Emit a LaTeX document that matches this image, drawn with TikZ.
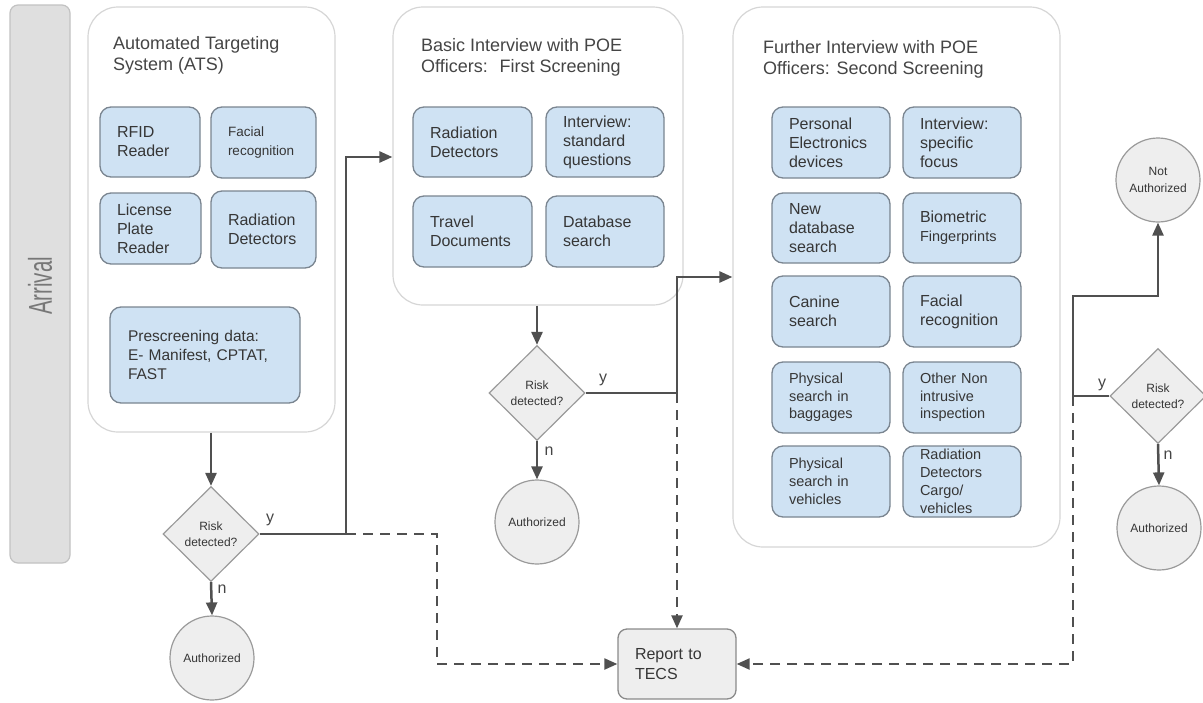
\documentclass[tikz,border=0pt]{standalone}
\usepackage{fontspec}
\setmainfont{Liberation Sans}
\newfontfamily\arrfont[FakeStretch=0.62]{Liberation Sans}
\usetikzlibrary{shapes.geometric,arrows.meta}
\definecolor{boxfill}{HTML}{CFE2F3}
\definecolor{boxline}{HTML}{7A8590}
\definecolor{grayfill}{HTML}{EEEEEE}
\definecolor{grayline}{HTML}{9A9A9A}
\definecolor{repline}{HTML}{8A8A8A}
\definecolor{contline}{HTML}{D6D6D6}
\definecolor{conn}{HTML}{505050}
\definecolor{txt}{HTML}{363636}
\definecolor{ttl}{HTML}{454545}
\definecolor{barfill}{HTML}{DFDFDF}
\definecolor{barline}{HTML}{C2C2C2}
\definecolor{arrtext}{HTML}{777777}
\newcommand{\fsz}[2]{\fontsize{#1}{#2}\selectfont}
\begin{document}
\begin{tikzpicture}[x=1pt,y=-1pt,
  container/.style={draw=contline, line width=1.2pt, rounded corners=30pt, fill=white, inner sep=0pt},
  titletext/.style={anchor=west, align=left, text=ttl, font=\fsz{18}{21}, inner sep=0pt},
  ibox/.style={draw=boxline, fill=boxfill, rounded corners=11pt, line width=1.3pt, inner xsep=17pt, inner ysep=0pt, align=left, text=txt, font=\fsz{16}{19}},
  dia/.style={diamond, draw=grayline, fill=grayfill, line width=1.2pt, minimum width=96pt, minimum height=95pt, inner sep=0pt, font=\fsz{12}{16}, text=txt, align=center},
  circ/.style={circle, draw=grayline, fill=grayfill, line width=1.2pt, minimum size=84pt, inner sep=0pt, font=\fsz{12}{17}, text=txt, align=center},
  repbox/.style={draw=repline, fill=grayfill, rounded corners=9pt, line width=1.3pt, minimum height=70pt, text width=84pt, inner xsep=17pt, inner ysep=0pt, align=left, text=txt, font=\fsz{16}{20}},
  lbl/.style={text=ttl, font=\fsz{16}{18}, inner sep=0pt},
  arr/.style={draw=conn, line width=2.5pt, -{Triangle[length=13pt,width=11pt]}},
  dasharr/.style={arr, line width=2.2pt, dash pattern=on 10pt off 7pt}
]
\useasboundingbox (0,0) rectangle (1203,702);

% Arrival bar
\node[draw=barline, fill=barfill, line width=1.2pt, rounded corners=8pt, minimum width=60pt, minimum height=558pt, inner sep=0pt] (bar) at (40,284) {};
\node[rotate=90, text=arrtext, font=\arrfont\fsz{33}{36}, inner sep=0pt] (arrtxt) at (40,286) {Arrival};

% Containers
\node[container, minimum width=247pt, minimum height=425pt] (c1) at (211.5,219.5) {};
\node[container, minimum width=290pt, minimum height=298pt] (c2) at (538,156) {};
\node[container, minimum width=327pt, minimum height=540pt] (c3) at (896.5,277) {};

\node[titletext] (t1) at (113,55) {Automated Targeting\\System (ATS)};
\node[titletext] (t2) at (421,57.5) {Basic Interview with POE\\Officers:~ First Screening};
\node[titletext] (t3) at (763,59) {Further Interview with POE\\Officers: Second Screening};

% ATS boxes
\node[ibox, text width=66pt, minimum height=70pt] (rfid) at (150,142) {RFID\\Reader};
\node[ibox, text width=71pt, minimum height=71pt, font=\fsz{13.5}{19}] (fac1) at (263.5,142.5) {Facial\\recognition};
\node[ibox, text width=67pt, minimum height=71pt] (lpr) at (150.5,228.5) {License\\Plate\\Reader};
\node[ibox, text width=71pt, minimum height=77pt] (rad1) at (263.5,229.5) {Radiation\\Detectors};
\node[ibox, text width=154pt, inner xsep=18pt, minimum height=96pt, font=\fsz{15.5}{19}] (pre) at (205,355) {Prescreening data:\\E- Manifest, CPTAT,\\FAST};

% First screening boxes
\node[ibox, text width=85pt, minimum height=70pt] (rad2) at (472.5,142) {Radiation\\Detectors};
\node[ibox, text width=84pt, minimum height=70pt] (intv1) at (605,142) {Interview:\\standard\\questions};
\node[ibox, text width=85pt, minimum height=71pt] (trav) at (472.5,231.5) {Travel\\Documents};
\node[ibox, text width=84pt, minimum height=71pt] (db1) at (605,231.5) {Database\\search};

% Second screening boxes
\node[ibox, text width=84pt, minimum height=71pt] (pers) at (831,142.5) {Personal\\Electronics\\devices};
\node[ibox, text width=84pt, minimum height=71pt] (intv2) at (962,142.5) {Interview:\\specific\\focus};
\node[ibox, text width=84pt, minimum height=70pt] (db2) at (831,228) {New\\database\\search};
\node[ibox, text width=84pt, minimum height=70pt] (bio) at (962,228) {Biometric\\\fsz{14.5}{19}Fingerprints};
\node[ibox, text width=84pt, minimum height=71pt] (can) at (831,311.5) {Canine\\search};
\node[ibox, text width=84pt, minimum height=71pt] (fac2) at (962,311.5) {Facial\\recognition};
\node[ibox, text width=84pt, minimum height=71pt, font=\fsz{14.5}{17.5}] (bag) at (831,397.5) {Physical\\search in\\baggages};
\node[ibox, text width=84pt, minimum height=71pt, font=\fsz{14.5}{17.5}] (oth) at (962,397.5) {Other Non\\intrusive\\inspection};
\node[ibox, text width=84pt, minimum height=71pt, font=\fsz{14.5}{18}] (veh) at (831,481.5) {Physical\\search in\\vehicles};
\node[ibox, text width=84pt, minimum height=71pt, font=\fsz{14.5}{18}] (radc) at (962,481.5) {Radiation\\Detectors\\Cargo/\\vehicles};

% Decisions and outcomes
\node[dia] (d1) at (211,534) {Risk\\detected?};
\node[dia] (d2) at (537,393) {Risk\\detected?};
\node[dia] (d3) at (1158,396) {Risk\\detected?};
\node[circ] (a1) at (212,658) {Authorized};
\node[circ] (a2) at (537,522) {Authorized};
\node[circ] (a3) at (1159,528) {Authorized};
\node[circ] (na) at (1158,180) {Not\\Authorized};
\node[repbox] (rep) at (677,664) {Report to\\TECS};

% Labels
\node[lbl] (y1) at (270,520) {y};
\node[lbl] (n1) at (222,589) {n};
\node[lbl] (y2) at (603,380) {y};
\node[lbl] (n2) at (549,451) {n};
\node[lbl] (y3) at (1102,385) {y};
\node[lbl] (n3) at (1168,455) {n};

% Junctions
\coordinate (j1) at (346,534);
\coordinate (k1) at (346,157);
\coordinate (m1) at (437,534);
\coordinate (j2) at (677,393);
\coordinate (k2) at (677,277);
\coordinate (j3) at (1073,396);
\coordinate (k3) at (1073,296);

% Connectors
\draw[arr] (d1.north |- c1.south) -- (d1.north);
\draw[arr] (d1.south) -- (a1.north);
\draw[arr] (d1.east) -- (j1) -- (k1) -- (k1 -| c2.west);
\draw[dasharr] (j1) -- (m1) |- (rep.west);

\draw[arr] (d2.north |- c2.south) -- (d2.north);
\draw[arr] (d2.south) -- (a2.north);
\draw[arr] (d2.east) -- (j2) -- (k2) -- (k2 -| c3.west);
\draw[dasharr] (j2) -- (rep.north);

\draw[arr] (d3.west) -- (j3) -- (k3) -| (na.south);
\draw[dasharr] (j3) |- (rep.east);
\draw[arr] (d3.south) -- (a3.north);
\end{tikzpicture}
\end{document}
